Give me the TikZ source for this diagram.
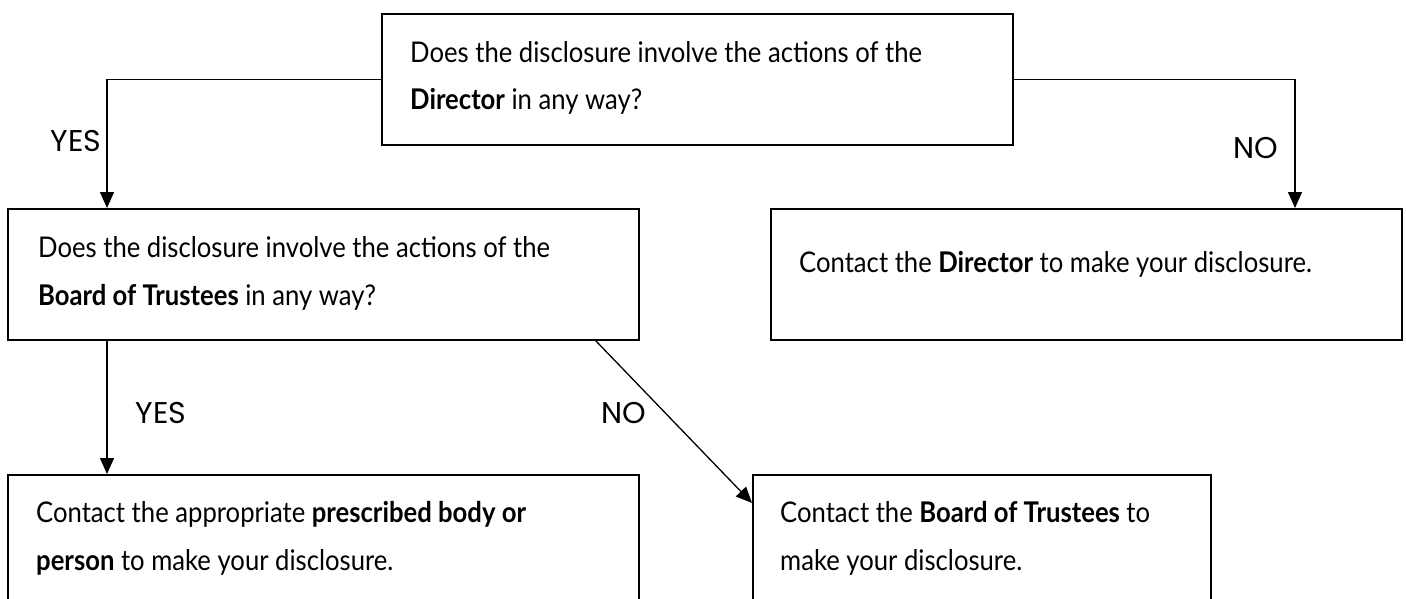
\documentclass[tikz,border=0pt]{standalone}
\usepackage{fontspec}
\setmainfont{Lato}[FakeStretch=0.9]
\newfontfamily\lblfont{Poppins}
\usetikzlibrary{arrows.meta,calc}
\begin{document}
\begin{tikzpicture}[x=1pt,y=-1pt,
  box/.style={draw, line width=1.6pt, anchor=north west, inner sep=0pt},
  txt/.style={anchor=base west, inner sep=0pt, font=\fontsize{28.5}{32}\selectfont},
  lbl/.style={inner sep=0pt, font=\lblfont\fontsize{30}{32}\selectfont},
  arr/.style={line width=1.3pt, -{Triangle[length=16pt,width=14pt]}}]
\useasboundingbox (0,0) rectangle (1406,598);
\clip (0,0) rectangle (1406,598);
% boxes
\node[box, minimum width=631pt, minimum height=131pt] (top) at (381,13) {};
\node[box, minimum width=631pt, minimum height=131pt] (midL) at (7,208) {};
\node[box, minimum width=631pt, minimum height=131pt] (midR) at (770,208) {};
\node[box, minimum width=631pt, minimum height=160pt] (botL) at (7,474) {};
\node[box, minimum width=458pt, minimum height=160pt] (botR) at (752,474) {};
% texts
\node[txt] (t1) at (410,62) {Does the disclosure involve the actions of the};
\node[txt] (t2) at (410,109) {\textbf{Director} in any way?};
\node[txt] (m1) at (38,257) {Does the disclosure involve the actions of the};
\node[txt] (m2) at (38,305) {\textbf{Board of Trustees} in any way?};
\node[txt] (r1) at (799,272) {Contact the \textbf{Director} to make your disclosure.};
\node[txt] (b1) at (36,522) {Contact the appropriate \textbf{prescribed body or}};
\node[txt] (b2) at (36,570) {\textbf{person} to make your disclosure.};
\node[txt] (c1) at (780,522) {Contact the \textbf{Board of Trustees} to};
\node[txt] (c2) at (780,570) {make your disclosure.};
% connector points
\coordinate (yesTop) at ($(midL.north west)+(100,0)$);
\coordinate (noTop) at ($(midR.north west)+(525,0)$);
\coordinate (yesBotS) at ($(midL.south west)+(100,0)$);
\coordinate (yesBotE) at ($(botL.north west)+(100,0)$);
\coordinate (noDiagS) at ($(midL.south east)+(-44,0)$);
\coordinate (noDiagE) at ($(botR.north west)+(0,29)$);
% connectors
\draw[arr] (top.west) -| (yesTop);
\draw[arr] (top.east) -| (noTop);
\draw[arr] (yesBotS) -- (yesBotE);
\draw[arr] (noDiagS) -- (noDiagE);
% labels
\node[lbl] (yes1) at (76,141) {YES};
\node[lbl] (no1) at (1256,148) {NO};
\node[lbl] (yes2) at (161,413) {YES};
\node[lbl] (no2) at (624,413) {NO};
\end{tikzpicture}
\end{document}
